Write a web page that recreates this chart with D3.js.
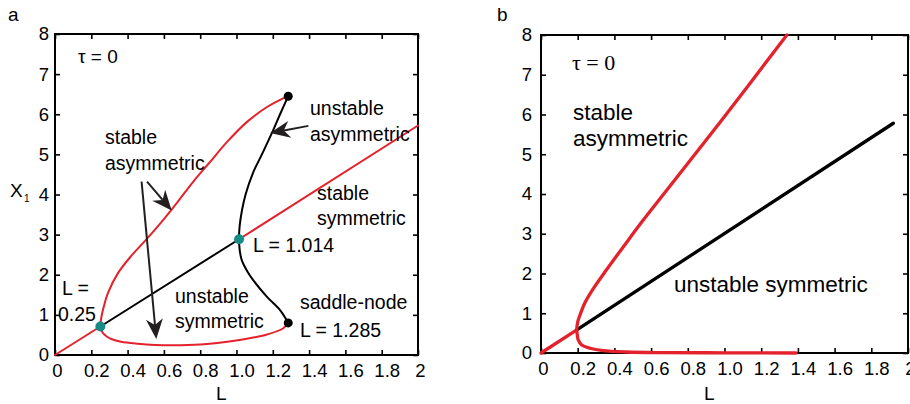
<!DOCTYPE html>
<html>
<head>
<meta charset="utf-8">
<script src="https://cdn.jsdelivr.net/npm/d3@7"></script>
<style>
  body { margin: 0; background: #fff; }
  svg { display: block; font-family: "Liberation Sans", Arial, Helvetica, sans-serif; }
</style>
</head>
<body>
<svg id="fig" width="910" height="404"></svg>
<script>
// tick values shared by both panels
const xTicks = [0, 0.2, 0.4, 0.6, 0.8, 1.0, 1.2, 1.4, 1.6, 1.8, 2];
const xTickLabels = ["0", "0.2", "0.4", "0.6", "0.8", "1.0", "1.2", "1.4", "1.6", "1.8", "2"];
const yTicks = [0, 1, 2, 3, 4, 5, 6, 7, 8];

// panel a: symmetric branch, split at the two bifurcations
const symStableLowA = [[0, 0], [0.25, 0.71]];
const symUnstableA = [[0.25, 0.71], [1.014, 2.885]];
const symStableHighA = [[1.014, 2.885], [2, 5.72]];

// panel a: stable asymmetric branch, upper saddle-node -> L=0.25 -> lower saddle-node
const asymStableA = [
  [1.285, 6.45], [1.24, 6.36], [1.168, 6.18], [1.058, 5.81], [0.948, 5.31], [0.854, 4.81],
  [0.76, 4.31], [0.678, 3.83], [0.606, 3.42], [0.501, 2.87], [0.42, 2.47], [0.347, 2.04],
  [0.292, 1.55], [0.264, 1.12], [0.254, 0.9], [0.25, 0.71],
  [0.262, 0.56], [0.285, 0.46], [0.31, 0.4], [0.364, 0.33], [0.457, 0.28], [0.551, 0.25],
  [0.65, 0.24], [0.8, 0.26], [0.98, 0.35], [1.1, 0.44], [1.168, 0.51], [1.256, 0.66], [1.285, 0.8]
];

// panel a: unstable asymmetric branch joining the two saddle-nodes
const asymUnstableA = [
  [1.285, 6.45], [1.24, 6.0], [1.196, 5.54], [1.14, 5.0], [1.091, 4.54], [1.05, 4.0],
  [1.03, 3.6], [1.017, 3.2], [1.014, 2.885], [1.018, 2.6], [1.03, 2.35], [1.06, 2.08],
  [1.091, 1.87], [1.168, 1.45], [1.24, 1.12], [1.285, 0.8]
];

const pitchforkA = [[0.25, 0.71], [1.014, 2.885]];
const saddleNodeA = [[1.285, 6.45], [1.285, 0.8]];

// panel b
const symStableB = [[0, 0], [0.195, 0.58]];
const symUnstableB = [[0.195, 0.58], [1.92, 5.78]];
const asymStableB = [
  [1.34, 8.0], [0.975, 5.8], [0.7, 4.18], [0.55, 3.3], [0.45, 2.68], [0.358, 2.1],
  [0.285, 1.62], [0.24, 1.27], [0.212, 0.95], [0.2, 0.78], [0.195, 0.58],
  [0.198, 0.45], [0.203, 0.33], [0.222, 0.2], [0.267, 0.12], [0.338, 0.06],
  [0.467, 0.025], [0.65, 0.01], [1.0, 0.005], [1.39, 0]
];

const RED = "#e3222b";
const TEAL = "#168b88";
const INK = "#231f20";

const svg = d3.select("#fig");
svg.append("rect").attr("width", 910).attr("height", 404).attr("fill", "#fff");

function makePanel(left, top, right, bottom, yPad) {
  const w = right - left, h = bottom - top;
  const x = d3.scaleLinear().domain([0, 2]).range([0, w]);
  const y = d3.scaleLinear().domain([0, 8]).range([h, 0]);
  const g = svg.append("g").attr("transform", `translate(${left},${top})`);

  const bottomAxis = g.append("g").attr("transform", `translate(0,${h})`)
    .call(d3.axisBottom(x).tickValues(xTicks).tickFormat((d, i) => xTickLabels[i])
      .tickSizeInner(-5).tickSizeOuter(0).tickPadding(9));
  bottomAxis.selectAll("text").attr("dx", d => (d === 0 || d === 2) ? 2 : 5);
  g.append("g")
    .call(d3.axisTop(x).tickValues(xTicks).tickFormat("").tickSizeInner(-5).tickSizeOuter(0));
  g.append("g")
    .call(d3.axisLeft(y).tickValues(yTicks).tickSizeInner(-5).tickSizeOuter(0).tickPadding(yPad));
  g.append("g").attr("transform", `translate(${w},0)`)
    .call(d3.axisRight(y).tickValues(yTicks).tickFormat("").tickSizeInner(-5).tickSizeOuter(0));

  g.selectAll(".domain").remove();
  g.selectAll(".tick line").attr("stroke", "#000").attr("stroke-width", 1.6);
  g.selectAll(".tick text").attr("fill", "#000").style("font-size", "18.5px")
    .style("font-family", '"Liberation Sans", Arial, sans-serif');

  g.append("rect").attr("width", w).attr("height", h)
    .attr("fill", "none").attr("stroke", "#000").attr("stroke-width", 2);

  const curves = g.append("g");
  return { g, x, y, curves };
}

function drawLine(p, pts, color, width) {
  const line = d3.line().x(d => p.x(d[0])).y(d => p.y(d[1])).curve(d3.curveCatmullRom.alpha(0.5));
  p.curves.append("path").datum(pts).attr("d", line)
    .attr("fill", "none").attr("stroke", color).attr("stroke-width", width)
    .attr("stroke-linejoin", "round").attr("stroke-linecap", "round");
}

function drawDots(p, pts, color, r) {
  p.g.selectAll(null).data(pts).enter().append("circle")
    .attr("cx", d => p.x(d[0])).attr("cy", d => p.y(d[1])).attr("r", r).attr("fill", color);
}

// arrow with a barbed filled head, from (L0,X0) to tip (L1,X1)
function drawArrow(p, from, to) {
  const x0 = p.x(from[0]), y0 = p.y(from[1]), x1 = p.x(to[0]), y1 = p.y(to[1]);
  const a = Math.atan2(y1 - y0, x1 - x0);
  const len = 20, half = 8.5, notch = 14;
  const ux = Math.cos(a), uy = Math.sin(a);
  const bx = x1 - ux * len, by = y1 - uy * len;
  const nx = x1 - ux * notch, ny = y1 - uy * notch;
  p.g.append("line").attr("x1", x0).attr("y1", y0).attr("x2", nx).attr("y2", ny)
    .attr("stroke", INK).attr("stroke-width", 2);
  const head = [[x1, y1], [bx - uy * half, by + ux * half], [nx, ny], [bx + uy * half, by - ux * half]];
  p.g.append("polygon").attr("points", head.map(q => q.join(",")).join(" ")).attr("fill", INK);
}

function label(g, txt, x, y, size, family) {
  return g.append("text").attr("x", x).attr("y", y).text(txt)
    .style("font-size", size + "px").style("font-family", family || null).attr("fill", "#000");
}

// ---- panel a ----
const pa = makePanel(55, 34, 418, 355, 6);
drawLine(pa, symStableLowA, RED, 2);
drawLine(pa, symUnstableA, "#000", 2);
drawLine(pa, symStableHighA, RED, 2);
drawLine(pa, asymStableA, RED, 2);
drawLine(pa, asymUnstableA, "#000", 2);
drawDots(pa, pitchforkA, TEAL, 5);
drawDots(pa, saddleNodeA, "#000", 4.5);

drawArrow(pa, [0.507, 4.32], [0.643, 3.6]);
drawArrow(pa, [0.477, 4.32], [0.558, 0.4]);
drawArrow(pa, [1.396, 5.71], [1.185, 5.53]);

label(svg, "a", 8, 21, 19);
label(svg, "τ = 0", 78, 63, 19);
label(svg, "stable", 105, 144, 19.5);
label(svg, "asymmetric", 105, 170, 19.5);
label(svg, "unstable", 310, 115, 19.5);
label(svg, "asymmetric", 310, 141, 19.5);
label(svg, "stable", 317, 200, 19.5);
label(svg, "symmetric", 317, 225, 19.5);
label(svg, "L = 1.014", 253, 252, 19.5);
label(svg, "saddle-node", 300, 309, 19.5);
label(svg, "L = 1.285", 300, 337, 19.5);
label(svg, "unstable", 175, 303, 19.5);
label(svg, "symmetric", 175, 328, 19.5);
label(svg, "L =", 62, 295, 19.5);
label(svg, "0.25", 58, 321, 19.5);
label(svg, "L", 216, 400, 19);
label(svg, "X", 10, 197, 19);
label(svg, "1", 24, 202, 10);

// ---- panel b ----
const pb = makePanel(541, 35, 908, 353, 9);
drawLine(pb, symStableB, RED, 3.3);
drawLine(pb, symUnstableB, "#000", 3.3);
drawLine(pb, asymStableB, RED, 3.3);

label(svg, "b", 497, 21, 19);
label(svg, "τ = 0", 572, 70, 22, '"Liberation Serif", "Times New Roman", serif');
label(svg, "stable", 573, 120, 22.5);
label(svg, "asymmetric", 573, 146, 22.5);
label(svg, "unstable symmetric", 674, 292, 22.5);
label(svg, "L", 704, 400, 19);
</script>
</body>
</html>
